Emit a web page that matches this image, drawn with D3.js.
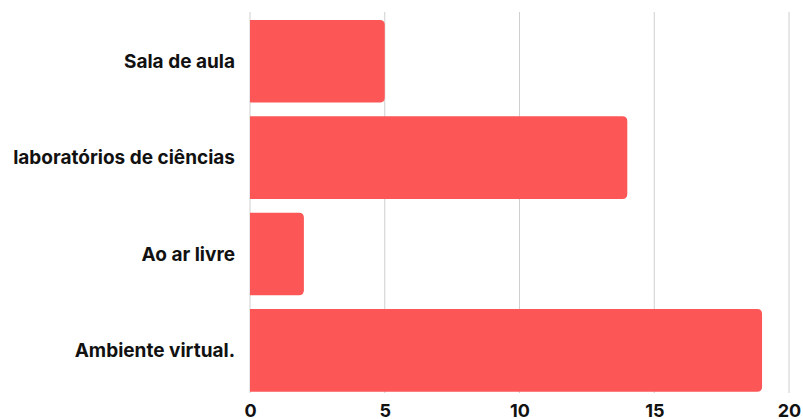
<!DOCTYPE html>
<html>
<head>
<meta charset="utf-8">
<script src="https://cdn.jsdelivr.net/npm/d3@7"></script>
<style>
  html, body { margin: 0; padding: 0; background: #fff; }
  svg { display: block; }
  .lbl { font-family: Inter, "Open Sans", sans-serif; font-weight: 700; fill: #111; }
</style>
</head>
<body>
<svg id="chart" width="803" height="419"></svg>
<script>
// Where the classes take place — number of answers per setting
const categories = ["Sala de aula", "laboratórios de ciências", "Ao ar livre", "Ambiente virtual."];
const values = [5, 14, 2, 19];
const tickValues = [0, 5, 10, 15, 20];

const svg = d3.select("#chart");
const plotLeft = 250, plotRight = 789, plotTop = 20, plotBottom = 391.7;

const x = d3.scaleLinear().domain([0, 20]).range([plotLeft, plotRight]);
const y = d3.scaleBand().domain(categories).range([plotTop, plotBottom]).paddingInner(0.143).paddingOuter(0);

// vertical gridlines
svg.append("g").selectAll("line").data(tickValues).join("line")
  .attr("x1", d => x(d)).attr("x2", d => x(d))
  .attr("y1", 12).attr("y2", 393)
  .attr("stroke", "#cfcfcf").attr("stroke-width", 1);

// bars with rounded right corners
const r = 5;
function barPath(v, cat) {
  const x0 = x(0), x1 = x(v), y0 = y(cat), h = y.bandwidth();
  const rr = Math.min(r, (x1 - x0) / 2);
  return `M${x0},${y0}H${x1 - rr}Q${x1},${y0} ${x1},${y0 + rr}V${y0 + h - rr}Q${x1},${y0 + h} ${x1 - rr},${y0 + h}H${x0}Z`;
}
svg.append("g").selectAll("path").data(categories).join("path")
  .attr("d", (c, i) => barPath(values[i], c))
  .attr("fill", "#fd5657");

// category labels
svg.append("g").selectAll("text").data(categories).join("text")
  .attr("class", "lbl")
  .attr("x", plotLeft - 15)
  .attr("y", c => y(c) + y.bandwidth() / 2)
  .attr("dy", "0.35em")
  .attr("text-anchor", "end")
  .attr("font-size", 19)
  .text(c => c);

// x axis tick labels
const xAxis = d3.axisBottom(x).tickValues(tickValues).tickSize(0).tickPadding(0);
const ax = svg.append("g").attr("transform", `translate(0,${404})`).call(xAxis);
ax.select(".domain").remove();
ax.selectAll("text").attr("class", "lbl").attr("font-size", 18).attr("dy", "0.71em");
</script>
</body>
</html>
